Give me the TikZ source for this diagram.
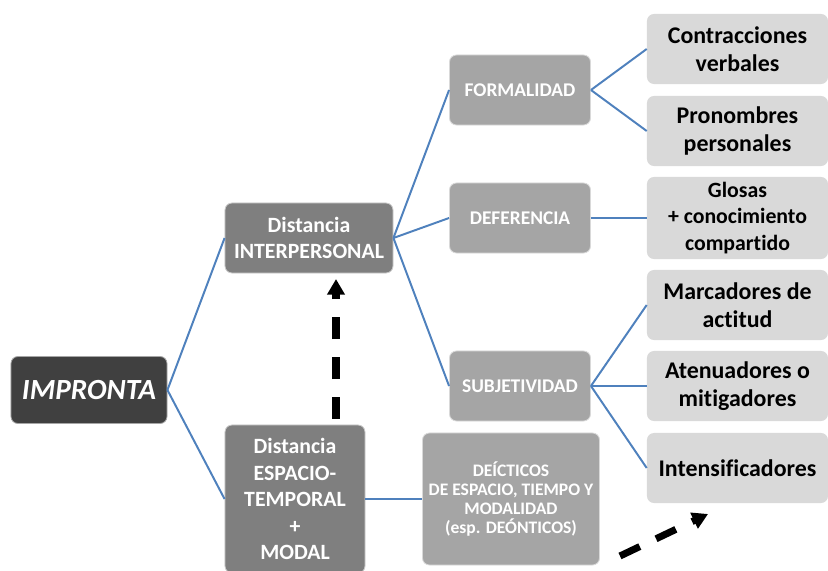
\documentclass[tikz,border=0pt]{standalone}
\usepackage{fontspec}
\setmainfont{Carlito}[Ligatures=NoCommon]
\usepackage{tikz}
\usetikzlibrary{arrows.meta}

\definecolor{rootgray}{HTML}{404040}
\definecolor{midgray}{HTML}{7F7F7F}
\definecolor{leafgray}{HTML}{A5A5A5}
\definecolor{palegray}{HTML}{D9D9D9}
\definecolor{linkblue}{HTML}{4F81BD}

\begin{document}
\begin{tikzpicture}[x=0.025cm, y=-0.025cm,
    box/.style={rectangle, rounded corners=5pt, align=center, inner sep=2pt},
    rootbox/.style={box, fill=rootgray, draw=gray!70, line width=0.6pt, text=white,
        font=\bfseries\itshape\fontsize{20.8}{24}\selectfont},
    levelbox/.style={box, fill=midgray, draw=gray!40, line width=0.6pt, text=white,
        font=\bfseries\fontsize{15.5}{18.8}\selectfont},
    kindbox/.style={box, fill=leafgray, draw=gray!30, line width=0.6pt, text=white,
        font=\bfseries\fontsize{13.8}{16}\selectfont,
        minimum width=3.525cm, minimum height=1.75cm},
    itembox/.style={box, fill=palegray, text=black,
        font=\bfseries\fontsize{17}{20}\selectfont,
        minimum width=4.525cm, minimum height=1.75cm},
    link/.style={draw=linkblue, line width=1.4pt},
    dasharrow/.style={line width=5pt, dash pattern=on 15.6pt off 12.8pt,
        -{Triangle[length=11pt, width=12pt]}}
]
    \useasboundingbox (0,0) rectangle (828,571);

    % left part
    \node[rootbox, minimum width=3.9cm, minimum height=1.675cm] (impronta) at (89,390) {IMPRONTA};
    \node[levelbox, minimum width=4.2cm, minimum height=1.75cm] (inter) at (309,238) {Distancia\\INTERPERSONAL};
    \node[levelbox, minimum width=3.5cm, minimum height=3.7cm] (espacio) at (295,499) {Distancia\\ESPACIO-\\TEMPORAL\\+\\MODAL};

    % middle column
    \node[kindbox] (formal) at (520,90) {FORMALIDAD};
    \node[kindbox] (defer) at (520,218) {DEFERENCIA};
    \node[kindbox] (subj) at (520,386) {SUBJETIVIDAD};
    \node[kindbox, minimum width=4.425cm, minimum height=3.3cm,
        font=\bfseries\fontsize{12.5}{13.3}\selectfont] (deict) at (511,499)
        {DEÍCTICOS\\DE ESPACIO, TIEMPO Y\\MODALIDAD\\(esp. DEÓNTICOS)};

    % right column
    \node[itembox] (contr) at (737.5,49) {Contracciones\\verbales};
    \node[itembox] (pronom) at (737.5,131) {Pronombres\\personales};
    \node[itembox, minimum height=2.05cm, font=\bfseries\fontsize{15.5}{18.8}\selectfont] (glosas) at (737.5,218) {Glosas\\+ conocimiento\\compartido};
    \node[itembox] (marcad) at (737.5,305) {Marcadores de\\actitud};
    \node[itembox] (atenua) at (737.5,386) {Atenuadores o\\mitigadores};
    \node[itembox] (intens) at (737.5,468) {Intensificadores};

    % connectors
    \draw[link] (impronta.east) -- (inter.west);
    \draw[link] (impronta.east) -- (espacio.west);
    \draw[link] (inter.east) -- (formal.west);
    \draw[link] (inter.east) -- (defer.west);
    \draw[link] (inter.east) -- (subj.west);
    \draw[link] (espacio.east) -- (deict.west);
    \draw[link] (formal.east) -- (contr.west);
    \draw[link] (formal.east) -- (pronom.west);
    \draw[link] (defer.east) -- (glosas.west);
    \draw[link] (subj.east) -- (marcad.west);
    \draw[link] (subj.east) -- (atenua.west);
    \draw[link] (subj.east) -- (intens.west);

    % dashed arrows
    \coordinate (arrowx) at (336,0);
    \draw[dasharrow, shorten <=4pt, shorten >=4pt] (espacio.north -| arrowx) -- (inter.south -| arrowx);
    \coordinate (dashstart) at (620,556);
    \coordinate (dashend) at (708,514);
    \draw[dasharrow] (dashstart) -- (dashend);
\end{tikzpicture}
\end{document}
